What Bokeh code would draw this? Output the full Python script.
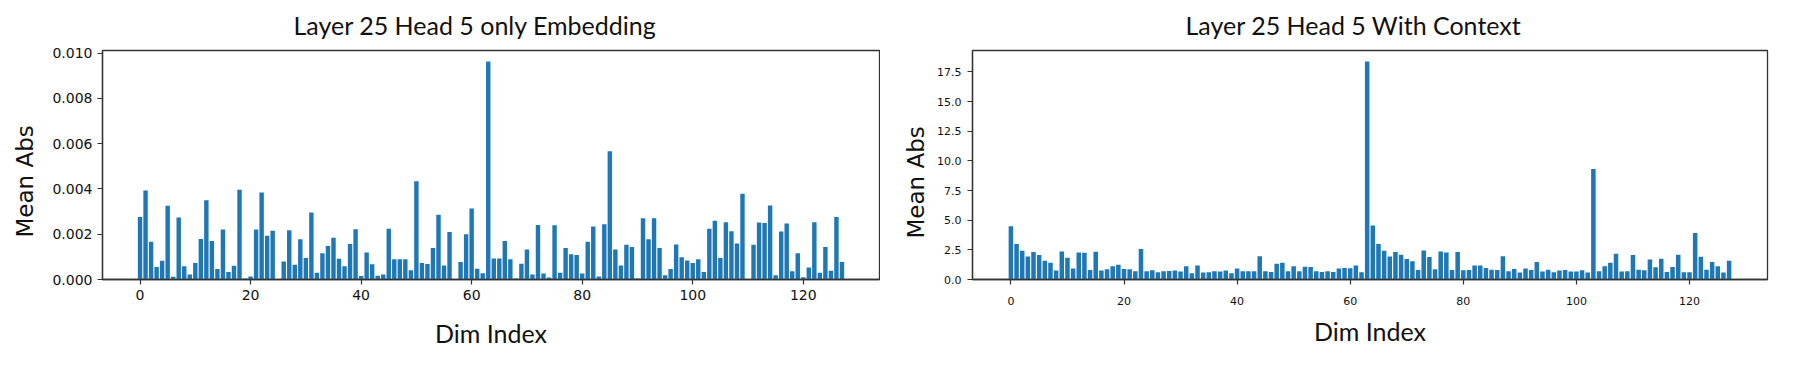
from bokeh.plotting import figure
from bokeh.layouts import row
from bokeh.models import Range1d, FixedTicker, PrintfTickFormatter, Title
from bokeh.embed import file_html
from bokeh.resources import INLINE

dims = list(range(128))

# Mean abs per dimension, "only Embedding" (values in units of 0.001)
emb_milli = [
    2.76, 3.93, 1.67, 0.55, 0.83, 3.26, 0.12, 2.74, 0.58, 0.22,
    0.73, 1.79, 3.50, 1.70, 0.46, 2.21, 0.33, 0.61, 3.96, 0.04,
    0.13, 2.21, 3.84, 1.93, 2.15, 0.01, 0.79, 2.18, 0.65, 1.78,
    0.95, 2.96, 0.30, 1.16, 1.48, 1.84, 0.92, 0.58, 1.57, 2.22,
    0.16, 1.19, 0.67, 0.17, 0.22, 2.24, 0.89, 0.89, 0.89, 0.41,
    4.34, 0.73, 0.68, 1.39, 2.86, 0.62, 2.10, 0.01, 0.77, 2.00,
    3.14, 0.47, 0.28, 9.63, 0.93, 0.93, 1.70, 0.89, 0.04, 0.70,
    1.32, 0.22, 2.41, 0.27, 0.09, 2.40, 0.30, 1.39, 1.11, 1.08,
    0.27, 1.67, 2.34, 0.13, 2.44, 5.66, 1.33, 0.62, 1.53, 1.44,
    0.04, 2.70, 1.78, 2.70, 1.39, 0.19, 0.46, 1.54, 0.98, 0.84,
    0.73, 0.89, 0.33, 2.24, 2.59, 0.95, 2.53, 2.13, 1.59, 3.79,
    0.02, 1.53, 2.52, 2.49, 3.27, 0.19, 2.12, 2.47, 0.36, 1.16,
    0.10, 0.53, 2.53, 0.30, 1.44, 0.39, 2.76, 0.77,
]
emb_vals = [v / 1000.0 for v in emb_milli]

# Mean abs per dimension, "With Context"
ctx_vals = [
    4.50, 3.00, 2.42, 1.94, 2.31, 2.06, 1.58, 1.42, 0.75, 2.36,
    1.83, 0.92, 2.28, 2.25, 0.81, 2.33, 0.75, 0.86, 1.11, 1.25,
    0.89, 0.86, 0.69, 2.58, 0.69, 0.78, 0.61, 0.69, 0.72, 0.75,
    0.67, 1.11, 0.53, 1.19, 0.58, 0.61, 0.69, 0.67, 0.75, 0.53,
    0.92, 0.69, 0.69, 0.69, 1.97, 0.69, 0.64, 1.33, 1.42, 0.69,
    1.11, 0.69, 1.08, 1.06, 0.69, 0.64, 0.69, 0.64, 0.92, 0.97,
    0.94, 1.19, 0.61, 18.39, 4.56, 3.00, 2.42, 1.94, 2.31, 2.08,
    1.72, 1.53, 0.81, 2.44, 1.89, 0.86, 2.36, 2.28, 0.81, 2.31,
    0.78, 0.81, 1.19, 1.19, 0.97, 0.83, 0.81, 1.97, 0.69, 0.89,
    0.58, 0.92, 0.81, 1.47, 0.67, 0.83, 0.61, 0.75, 0.81, 0.67,
    0.67, 0.78, 0.58, 9.31, 0.69, 1.11, 1.42, 2.17, 0.67, 0.69,
    2.06, 0.83, 0.78, 1.69, 1.03, 1.75, 0.64, 1.06, 2.08, 0.61,
    0.61, 3.92, 1.92, 0.83, 1.47, 1.11, 0.58, 1.58,
]

x_ticks = [0, 20, 40, 60, 80, 100, 120]
emb_yticks = [0.000, 0.002, 0.004, 0.006, 0.008, 0.010]
ctx_yticks = [0.0, 2.5, 5.0, 7.5, 10.0, 12.5, 15.0, 17.5]

title_left = "Layer 25 Head 5 only Embedding"
title_right = "Layer 25 Head 5 With Context"
x_label = "Dim Index"
y_label = "Mean Abs"

BAR = "#1f77b4"
DARK = "#333333"
TXT = "#111111"


def style(p, tick_size, ytick_standoff, xtick_standoff, xlabel_standoff, title_standoff):
    p.xgrid.visible = False
    p.ygrid.visible = False
    p.outline_line_color = DARK
    p.outline_line_width = 1.3
    p.outline_line_alpha = 1.0
    for ax in (p.xaxis[0], p.yaxis[0]):
        ax.axis_line_color = DARK
        ax.axis_line_width = 1.3
        ax.major_tick_line_color = DARK
        ax.major_tick_line_width = 1.2
        ax.major_tick_out = 5
        ax.major_tick_in = 0
        ax.minor_tick_line_color = None
        ax.major_label_text_font = "DejaVu Sans"
        ax.major_label_text_font_size = tick_size
        ax.major_label_text_color = TXT
        ax.axis_label_text_font_style = "normal"
        ax.axis_label_text_color = TXT
    p.yaxis[0].major_label_standoff = ytick_standoff
    p.xaxis[0].axis_label = x_label
    p.xaxis[0].axis_label_text_font = "Lato"
    p.xaxis[0].axis_label_text_font_size = "25px"
    p.xaxis[0].axis_label_standoff = xlabel_standoff
    p.xaxis[0].major_label_standoff = xtick_standoff
    p.xaxis[0].ticker = FixedTicker(ticks=x_ticks)
    p.title.text_font = "Lato"
    p.title.text_font_size = "25px"
    p.title.text_font_style = "normal"
    p.title.text_color = TXT
    p.title.align = "left"
    p.title.vertical_align = "top"
    p.title.standoff = title_standoff


def add_ylabel(p, offset, standoff):
    t = Title(text=y_label, align="left", offset=offset, vertical_align="middle",
              standoff=standoff, text_font="DejaVu Sans", text_font_size="23px",
              text_font_style="normal", text_color=TXT)
    p.add_layout(t, "left")


# Left chart
p1 = figure(width=880, height=350,
            x_range=Range1d(-6.79, 133.79),
            y_range=Range1d(0, max(emb_vals) * 1.05),
            output_backend="svg", toolbar_location=None,
            min_border_left=101, min_border_right=1,
            min_border_top=50, min_border_bottom=71,
            title=title_left)
p1.vbar(x=dims, top=emb_vals, width=0.8, fill_color=BAR, line_color=None)
style(p1, "14px", 5, 5, 15, 18)
p1.yaxis[0].ticker = FixedTicker(ticks=emb_yticks)
p1.yaxis[0].formatter = PrintfTickFormatter(format="%.3f")
p1.title.offset = 191
add_ylabel(p1, 42, 21)

# Right chart
p2 = figure(width=897, height=350,
            x_range=Range1d(-6.79, 133.79),
            y_range=Range1d(0, max(ctx_vals) * 1.05),
            output_backend="svg", toolbar_location=None,
            min_border_left=92, min_border_right=10,
            min_border_top=50, min_border_bottom=71,
            title=title_right)
p2.vbar(x=dims, top=ctx_vals, width=0.8, fill_color=BAR, line_color=None)
style(p2, "11px", 6, 12, 8, 18)
p2.yaxis[0].ticker = FixedTicker(ticks=ctx_yticks)
p2.yaxis[0].formatter = PrintfTickFormatter(format="%.1f")
p2.title.offset = 213
add_ylabel(p2, 41, 9)

layout = row(p1, p2)
open("out.html", "w").write(file_html(layout, INLINE))
